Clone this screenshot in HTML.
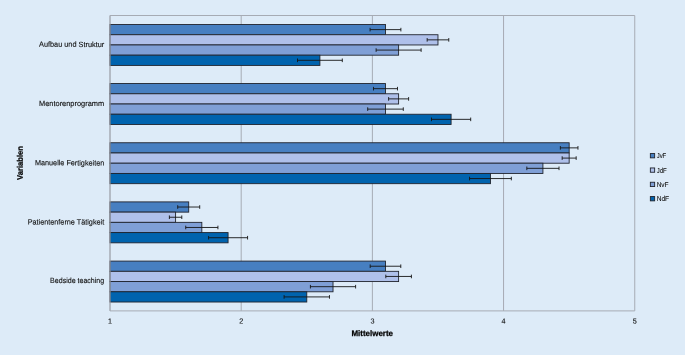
<!DOCTYPE html>
<html lang="de"><head><meta charset="utf-8"><title>Mittelwerte</title>
<style>html,body{margin:0;padding:0;background:#ddebf8}svg{display:block}text{font-family:"Liberation Sans",sans-serif;fill:#111}.lab{font-size:7.6px;text-anchor:end;stroke:#111;stroke-width:0.13px}.tick{font-size:7.2px;text-anchor:middle;stroke:#111;stroke-width:0.1px}.ttl{font-size:8.1px;font-weight:bold;text-anchor:middle;fill:#000;stroke:#000;stroke-width:0.25px}.leg{font-size:7.1px;stroke:#111;stroke-width:0.1px}</style></head><body>
<svg width="685" height="355" viewBox="0 0 685 355">
<rect x="0" y="0" width="685" height="355" fill="#ddebf8"/>
<line x1="110.00" y1="15.50" x2="110.00" y2="310.90" stroke="#a6abb4" stroke-width="1"/>
<line x1="241.19" y1="15.50" x2="241.19" y2="310.90" stroke="#a6abb4" stroke-width="1"/>
<line x1="372.38" y1="15.50" x2="372.38" y2="310.90" stroke="#a6abb4" stroke-width="1"/>
<line x1="503.56" y1="15.50" x2="503.56" y2="310.90" stroke="#a6abb4" stroke-width="1"/>
<line x1="634.75" y1="15.50" x2="634.75" y2="310.90" stroke="#a6abb4" stroke-width="1"/>
<line x1="110.00" y1="15.50" x2="634.75" y2="15.50" stroke="#a6abb4" stroke-width="1"/>
<line x1="110.00" y1="310.90" x2="634.75" y2="310.90" stroke="#a6abb4" stroke-width="1"/>
<rect x="110.00" y="24.50" width="275.49" height="10.23" fill="#477fc1" stroke="#20242e" stroke-width="0.9"/>
<rect x="110.00" y="34.73" width="327.97" height="10.23" fill="#afc0ea" stroke="#20242e" stroke-width="0.9"/>
<rect x="110.00" y="44.96" width="288.61" height="10.23" fill="#7f9fd6" stroke="#20242e" stroke-width="0.9"/>
<rect x="110.00" y="55.19" width="209.90" height="10.23" fill="#0063ae" stroke="#20242e" stroke-width="0.9"/>
<path d="M370.09 29.62H400.89M370.09 27.82v3.6M400.89 27.82v3.6" stroke="#151515" stroke-width="0.9" fill="none"/>
<path d="M427.17 39.85H448.77M427.17 38.05v3.6M448.77 38.05v3.6" stroke="#151515" stroke-width="0.9" fill="none"/>
<path d="M376.11 50.08H421.11M376.11 48.28v3.6M421.11 48.28v3.6" stroke="#151515" stroke-width="0.9" fill="none"/>
<path d="M297.50 60.30H342.30M297.50 58.51v3.6M342.30 58.51v3.6" stroke="#151515" stroke-width="0.9" fill="none"/>
<rect x="110.00" y="83.55" width="275.49" height="10.23" fill="#477fc1" stroke="#20242e" stroke-width="0.9"/>
<rect x="110.00" y="93.78" width="288.61" height="10.23" fill="#afc0ea" stroke="#20242e" stroke-width="0.9"/>
<rect x="110.00" y="104.01" width="275.49" height="10.23" fill="#7f9fd6" stroke="#20242e" stroke-width="0.9"/>
<rect x="110.00" y="114.24" width="341.09" height="10.23" fill="#0063ae" stroke="#20242e" stroke-width="0.9"/>
<path d="M373.49 88.66H397.49M373.49 86.86v3.6M397.49 86.86v3.6" stroke="#151515" stroke-width="0.9" fill="none"/>
<path d="M388.61 98.89H408.61M388.61 97.09v3.6M408.61 97.09v3.6" stroke="#151515" stroke-width="0.9" fill="none"/>
<path d="M367.69 109.12H403.29M367.69 107.32v3.6M403.29 107.32v3.6" stroke="#151515" stroke-width="0.9" fill="none"/>
<path d="M431.49 119.35H470.69M431.49 117.55v3.6M470.69 117.55v3.6" stroke="#151515" stroke-width="0.9" fill="none"/>
<rect x="110.00" y="142.75" width="459.16" height="10.23" fill="#477fc1" stroke="#20242e" stroke-width="0.9"/>
<rect x="110.00" y="152.98" width="459.16" height="10.23" fill="#afc0ea" stroke="#20242e" stroke-width="0.9"/>
<rect x="110.00" y="163.21" width="432.92" height="10.23" fill="#7f9fd6" stroke="#20242e" stroke-width="0.9"/>
<rect x="110.00" y="173.44" width="380.44" height="10.23" fill="#0063ae" stroke="#20242e" stroke-width="0.9"/>
<path d="M560.36 147.87H577.96M560.36 146.06v3.6M577.96 146.06v3.6" stroke="#151515" stroke-width="0.9" fill="none"/>
<path d="M562.16 158.09H576.16M562.16 156.29v3.6M576.16 156.29v3.6" stroke="#151515" stroke-width="0.9" fill="none"/>
<path d="M526.82 168.33H559.02M526.82 166.53v3.6M559.02 166.53v3.6" stroke="#151515" stroke-width="0.9" fill="none"/>
<path d="M469.54 178.56H511.34M469.54 176.75v3.6M511.34 176.75v3.6" stroke="#151515" stroke-width="0.9" fill="none"/>
<rect x="110.00" y="201.90" width="78.71" height="10.23" fill="#477fc1" stroke="#20242e" stroke-width="0.9"/>
<rect x="110.00" y="212.13" width="65.59" height="10.23" fill="#afc0ea" stroke="#20242e" stroke-width="0.9"/>
<rect x="110.00" y="222.36" width="91.83" height="10.23" fill="#7f9fd6" stroke="#20242e" stroke-width="0.9"/>
<rect x="110.00" y="232.59" width="118.07" height="10.23" fill="#0063ae" stroke="#20242e" stroke-width="0.9"/>
<path d="M177.71 207.02H199.71M177.71 205.22v3.6M199.71 205.22v3.6" stroke="#151515" stroke-width="0.9" fill="none"/>
<path d="M169.39 217.25H181.79M169.39 215.44v3.6M181.79 215.44v3.6" stroke="#151515" stroke-width="0.9" fill="none"/>
<path d="M185.73 227.48H217.93M185.73 225.68v3.6M217.93 225.68v3.6" stroke="#151515" stroke-width="0.9" fill="none"/>
<path d="M208.57 237.71H247.57M208.57 235.91v3.6M247.57 235.91v3.6" stroke="#151515" stroke-width="0.9" fill="none"/>
<rect x="110.00" y="261.10" width="275.49" height="10.23" fill="#477fc1" stroke="#20242e" stroke-width="0.9"/>
<rect x="110.00" y="271.33" width="288.61" height="10.23" fill="#afc0ea" stroke="#20242e" stroke-width="0.9"/>
<rect x="110.00" y="281.56" width="223.02" height="10.23" fill="#7f9fd6" stroke="#20242e" stroke-width="0.9"/>
<rect x="110.00" y="291.79" width="196.78" height="10.23" fill="#0063ae" stroke="#20242e" stroke-width="0.9"/>
<path d="M370.19 266.22H400.79M370.19 264.42v3.6M400.79 264.42v3.6" stroke="#151515" stroke-width="0.9" fill="none"/>
<path d="M385.81 276.45H411.41M385.81 274.65v3.6M411.41 274.65v3.6" stroke="#151515" stroke-width="0.9" fill="none"/>
<path d="M310.42 286.68H355.62M310.42 284.88v3.6M355.62 284.88v3.6" stroke="#151515" stroke-width="0.9" fill="none"/>
<path d="M284.08 296.91H329.48M284.08 295.11v3.6M329.48 295.11v3.6" stroke="#151515" stroke-width="0.9" fill="none"/>
<line x1="110.00" y1="15.50" x2="110.00" y2="310.90" stroke="#a6abb4" stroke-width="1"/>
<text class="lab" x="104.2" y="46.9" transform="rotate(0.03 104.2 46.9)" textLength="65.2" lengthAdjust="spacingAndGlyphs">Aufbau und Struktur</text>
<text class="lab" x="104.2" y="106.1" transform="rotate(0.03 104.2 106.1)" textLength="65.2" lengthAdjust="spacingAndGlyphs">Mentorenprogramm</text>
<text class="lab" x="104.2" y="165.4" transform="rotate(0.03 104.2 165.4)" textLength="69.2" lengthAdjust="spacingAndGlyphs">Manuelle Fertigkeiten</text>
<text class="lab" x="104.2" y="224.6" transform="rotate(0.03 104.2 224.6)" textLength="76.5" lengthAdjust="spacingAndGlyphs">Patientenferne Tätigkeit</text>
<text class="lab" x="104.2" y="283.5" transform="rotate(0.03 104.2 283.5)" textLength="54.1" lengthAdjust="spacingAndGlyphs">Bedside teaching</text>
<text class="tick" x="110.00" y="323.5" transform="rotate(0.03 110.00 323.5)">1</text>
<text class="tick" x="241.19" y="323.5" transform="rotate(0.03 241.19 323.5)">2</text>
<text class="tick" x="372.38" y="323.5" transform="rotate(0.03 372.38 323.5)">3</text>
<text class="tick" x="503.56" y="323.5" transform="rotate(0.03 503.56 323.5)">4</text>
<text class="tick" x="634.75" y="323.5" transform="rotate(0.03 634.75 323.5)">5</text>
<text class="ttl" x="372.2" y="335.9" transform="rotate(0.03 372.2 335.9)" textLength="41.6" lengthAdjust="spacingAndGlyphs">Mittelwerte</text>
<text class="ttl" transform="translate(22.75 163.0) rotate(-90.03)" x="0" y="0" textLength="34" lengthAdjust="spacingAndGlyphs">Variablen</text>
<rect x="650.35" y="153.55" width="4.3" height="4.3" fill="#477fc1" stroke="#20242e" stroke-width="0.9"/>
<text class="leg" x="656.7" y="158.20" transform="rotate(0.03 656.7 158.20)" textLength="9.5" lengthAdjust="spacingAndGlyphs">JvF</text>
<rect x="650.35" y="167.95" width="4.3" height="4.3" fill="#afc0ea" stroke="#20242e" stroke-width="0.9"/>
<text class="leg" x="656.7" y="172.60" transform="rotate(0.03 656.7 172.60)" textLength="9.9" lengthAdjust="spacingAndGlyphs">JdF</text>
<rect x="650.35" y="182.25" width="4.3" height="4.3" fill="#7f9fd6" stroke="#20242e" stroke-width="0.9"/>
<text class="leg" x="656.7" y="186.90" transform="rotate(0.03 656.7 186.90)" textLength="11.9" lengthAdjust="spacingAndGlyphs">NvF</text>
<rect x="650.35" y="196.55" width="4.3" height="4.3" fill="#0063ae" stroke="#20242e" stroke-width="0.9"/>
<text class="leg" x="656.7" y="201.20" transform="rotate(0.03 656.7 201.20)" textLength="12.4" lengthAdjust="spacingAndGlyphs">NdF</text>
</svg></body></html>
